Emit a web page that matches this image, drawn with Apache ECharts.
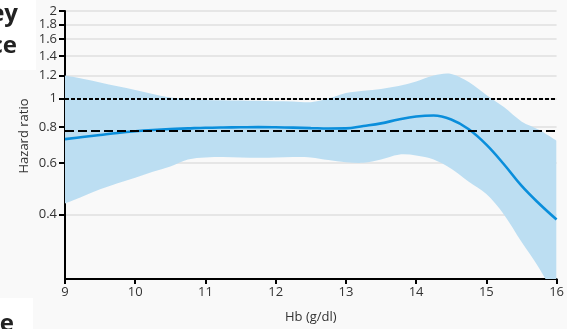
<!DOCTYPE html>
<html>
<head>
<meta charset="utf-8">
<script src="https://cdn.jsdelivr.net/npm/echarts@6/dist/echarts.min.js"></script>
<style>
  html, body { margin: 0; padding: 0; background: #f9f9f9; }
  #chart { width: 567px; height: 329px; }
</style>
</head>
<body>
<div id="chart"></div>
<script>
// Haemoglobin (g/dl) grid of the spline fit
const hb = [9, 9.25, 9.5, 9.75, 10, 10.25, 10.5, 10.75, 11, 11.25, 11.5, 11.75, 12,
            12.25, 12.5, 12.75, 13, 13.25, 13.5, 13.75, 14, 14.25, 14.5, 14.75, 15,
            15.25, 15.5, 15.75, 16];

// Fitted hazard ratio
const hazardRatio = [0.726, 0.738, 0.750, 0.762, 0.772, 0.780, 0.786, 0.790, 0.794, 0.796,
                     0.797, 0.798, 0.797, 0.795, 0.792, 0.789, 0.790, 0.805, 0.822, 0.848,
                     0.868, 0.875, 0.848, 0.785, 0.695, 0.595, 0.502, 0.436, 0.384];

// 95% confidence limits
const ciUpper = [1.20, 1.17, 1.137, 1.102, 1.07, 1.037, 1.008, 0.995, 0.99, 0.988,
                 0.985, 0.983, 0.98, 0.978, 0.972, 1.0, 1.045, 1.065, 1.08, 1.105,
                 1.145, 1.20, 1.215, 1.14, 1.03, 0.935, 0.835, 0.782, 0.717];
const ciLower = [0.436, 0.461, 0.488, 0.512, 0.535, 0.561, 0.585, 0.618, 0.628, 0.63,
                 0.628, 0.626, 0.627, 0.63, 0.628, 0.615, 0.605, 0.602, 0.618, 0.642,
                 0.638, 0.618, 0.574, 0.518, 0.47, 0.40, 0.322, 0.262, 0.205];

// Reference levels
const nullRatio = 1;
const overallRatio = 0.77;

// Axis ticks and range
const yTicks = [0.4, 0.6, 0.8, 1, 1.2, 1.4, 1.6, 1.8, 2];
const yRange = [0.24, 2];
const xTicks = [9, 10, 11, 12, 13, 14, 15, 16];

// The ratio axis is logarithmic: values are plotted as log10 on a value axis
const lg = Math.log10;
const hrPts = hb.map((x, i) => [x, lg(hazardRatio[i])]);

// Smooth path (Catmull-Rom as cubic Beziers) through pixel points
function curveTo(pts, t) {
  let d = '';
  for (let i = 0; i < pts.length - 1; i++) {
    const p0 = pts[Math.max(i - 1, 0)], p1 = pts[i], p2 = pts[i + 1], p3 = pts[Math.min(i + 2, pts.length - 1)];
    const c1 = [p1[0] + (p2[0] - p0[0]) * t, p1[1] + (p2[1] - p0[1]) * t];
    const c2 = [p2[0] - (p3[0] - p1[0]) * t, p2[1] - (p3[1] - p1[1]) * t];
    d += ' C' + c1[0] + ',' + c1[1] + ' ' + c2[0] + ',' + c2[1] + ' ' + p2[0] + ',' + p2[1];
  }
  return d;
}

// Confidence band: upper limit left to right, lower limit back, clipped to the plot
function renderBand(params, api) {
  if (params.dataIndex !== 0) return;
  const up = hb.map((x, i) => api.coord([x, lg(ciUpper[i])]));
  const lo = hb.map((x, i) => api.coord([x, lg(ciLower[i])])).reverse();
  const d = 'M' + up[0][0] + ',' + up[0][1] + curveTo(up, 1 / 6) +
            ' L' + lo[0][0] + ',' + lo[0][1] + curveTo(lo, 1 / 6) + ' Z';
  const cs = params.coordSys;
  return {
    type: 'group',
    children: [{
      type: 'path',
      shape: { pathData: d },
      style: { fill: '#bcdef2', stroke: null },
      silent: true
    }],
    clipPath: { type: 'rect', shape: { x: cs.x, y: cs.y, width: cs.width, height: cs.height } }
  };
}

const font = '"Open Sans", "Noto Sans", sans-serif';
const chart = echarts.init(document.getElementById('chart'), null, { renderer: 'canvas' });

chart.setOption({
  backgroundColor: '#f9f9f9',
  animation: false,
  grid: { left: 65, right: 7, top: 11, bottom: 48, containLabel: false },
  xAxis: {
    type: 'value',
    min: xTicks[0],
    max: xTicks[xTicks.length - 1],
    interval: 1,
    name: 'Hb (g/dl)',
    nameLocation: 'middle',
    nameGap: 32,
    nameTextStyle: { fontFamily: font, fontSize: 13, color: '#333' },
    axisLine: { onZero: false, lineStyle: { color: '#000', width: 2 } },
    axisTick: { length: 5, lineStyle: { color: '#000', width: 2 } },
    axisLabel: { fontFamily: font, fontSize: 13, color: '#333', margin: 7 },
    splitLine: { show: false }
  },
  yAxis: {
    type: 'value',
    min: lg(yRange[0]),
    max: lg(yRange[1]),
    axisLine: { show: true, onZero: false, lineStyle: { color: '#000', width: 2 } },
    axisTick: { show: true, length: 6, customValues: yTicks.map(lg), lineStyle: { color: '#000', width: 2 } },
    axisLabel: {
      customValues: yTicks.map(lg),
      fontFamily: font, fontSize: 13, color: '#333', margin: 8,
      formatter: v => String(+Math.pow(10, v).toFixed(2))
    },
    splitLine: { show: true, lineStyle: { color: '#e6e6e6', width: 2 } }
  },
  graphic: [
    { type: 'rect', left: 0, top: 0, shape: { width: 36, height: 70 }, style: { fill: '#ffffff' }, z: -1 },
    { type: 'text', x: 18, y: 14, style: { text: 'ey', font: 'bold 24px ' + font, fill: '#222', textAlign: 'right', textVerticalAlign: 'middle' } },
    { type: 'text', x: 17, y: 46, style: { text: 'ce', font: 'bold 24px ' + font, fill: '#222', textAlign: 'right', textVerticalAlign: 'middle' } },
    { type: 'rect', left: 0, top: 298, shape: { width: 33, height: 31 }, style: { fill: '#ffffff' }, z: -1 },
    { type: 'text', x: 14, y: 324, style: { text: 'e', font: 'bold 24px ' + font, fill: '#222', textAlign: 'right', textVerticalAlign: 'middle' } },
    { type: 'text', x: 24, y: 136, rotation: Math.PI / 2,
      style: { text: 'Hazard ratio', font: '13px ' + font, fill: '#333', textAlign: 'center', textVerticalAlign: 'middle' } }
  ],
  series: [
    {
      name: '95% CI',
      type: 'custom',
      coordinateSystem: 'cartesian2d',
      data: hb.map((x, i) => [x, lg(ciUpper[i]), lg(ciLower[i])]),
      encode: { x: 0, y: [1, 2] },
      renderItem: renderBand,
      clip: true,
      silent: true,
      z: 1
    },
    {
      name: 'Hazard ratio',
      type: 'line',
      data: hrPts,
      smooth: 0.4,
      symbol: 'none',
      lineStyle: { color: '#0a8edb', width: 2.6 },
      z: 3,
      markLine: {
        silent: true,
        symbol: 'none',
        label: { show: false },
        data: [
          { yAxis: lg(nullRatio), lineStyle: { color: '#000', width: 2, type: [4, 2] } },
          { yAxis: lg(overallRatio), lineStyle: { color: '#000', width: 2, type: [9, 4] } }
        ]
      }
    }
  ]
});
</script>
</body>
</html>
